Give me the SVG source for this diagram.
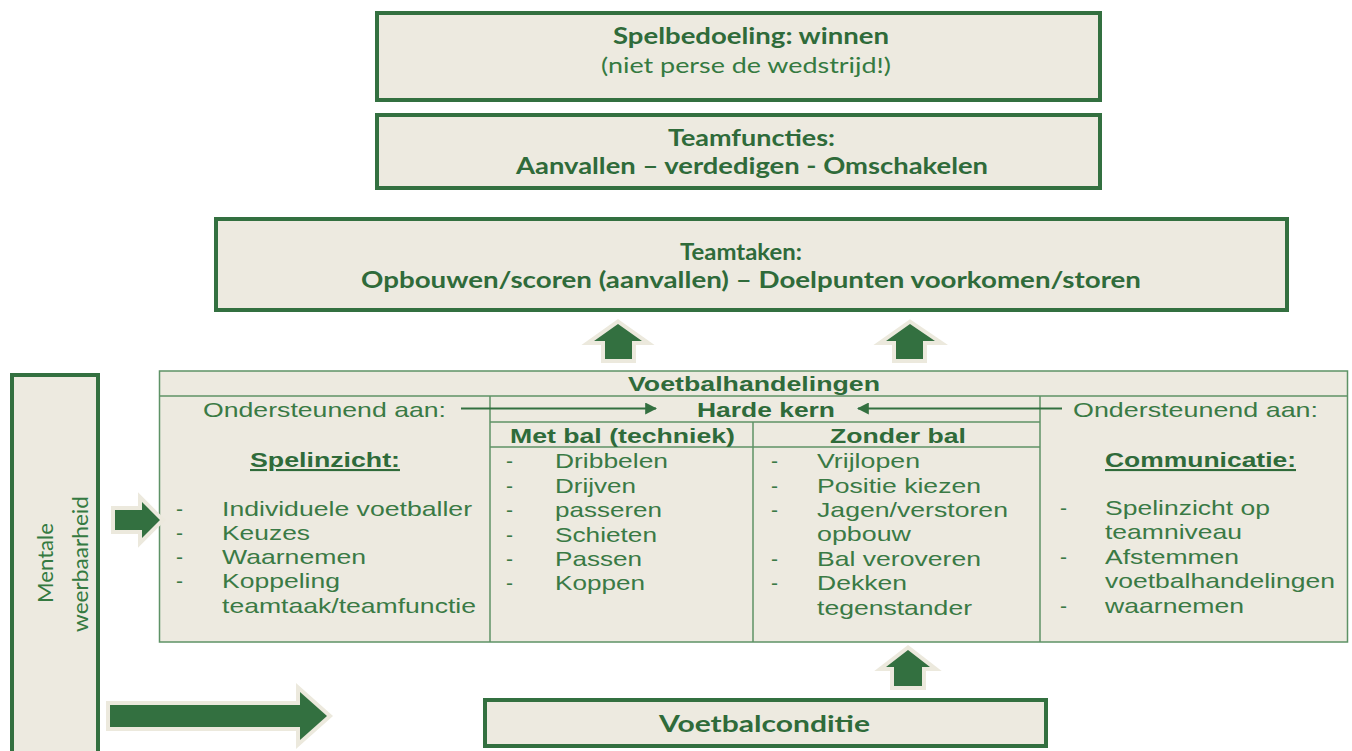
<svg xmlns="http://www.w3.org/2000/svg" width="1352" height="751" viewBox="0 0 1352 751">
<defs>
<style>
.box{fill:#EDEAE0;stroke:#337040;stroke-width:4}
.tbl{fill:#EDEAE0;stroke:#5E9266;stroke-width:1.5}
.ln{stroke:#5E9266;stroke-width:1.5;fill:none}
.cb{font-family:Lato,"Open Sans",sans-serif;font-weight:bold;font-size:22px;fill:#2F6B3A}
.cr{font-family:Lato,"Open Sans",sans-serif;font-size:22px;fill:#357A41}
.ab{font-family:"Liberation Sans",Arial,sans-serif;font-weight:bold;font-size:21px;fill:#2F6B3A}
.ar{font-family:"Liberation Sans",Arial,sans-serif;font-size:21px;fill:#3A7A45}
.arr{fill:#337040;stroke:#ECE9DD;stroke-width:8;stroke-linejoin:miter;paint-order:stroke}
.thin{stroke:#337040;stroke-width:2;fill:none}
</style>
<marker id="ah" viewBox="0 0 10 10" refX="9" refY="5" markerWidth="6" markerHeight="6" orient="auto-start-reverse" markerUnits="strokeWidth">
<path d="M0,0 L10,5 L0,10 z" fill="#337040"/>
</marker>
</defs>
<rect width="1352" height="751" fill="#FFFFFF"/>

<g id="spelbedoeling">
<rect class="box" x="377" y="13" width="723" height="87"/>
<text class="cb" x="613" y="44" textLength="276" lengthAdjust="spacingAndGlyphs">Spelbedoeling: winnen</text>
<text class="cr" x="601" y="73" textLength="290" lengthAdjust="spacingAndGlyphs">(niet perse de wedstrijd!)</text>
</g>

<g id="teamfuncties">
<rect class="box" x="377" y="115" width="723" height="73"/>
<text class="cb" x="668" y="146" textLength="167" lengthAdjust="spacingAndGlyphs">Teamfuncties:</text>
<text class="cb" x="516" y="174" textLength="472" lengthAdjust="spacingAndGlyphs">Aanvallen – verdedigen - Omschakelen</text>
</g>

<g id="teamtaken">
<rect class="box" x="216" y="219" width="1071" height="91"/>
<text class="cb" x="680" y="260" textLength="122" lengthAdjust="spacingAndGlyphs">Teamtaken:</text>
<text class="cb" x="361" y="288" textLength="780" lengthAdjust="spacingAndGlyphs">Opbouwen/scoren (aanvallen) – Doelpunten voorkomen/storen</text>
</g>

<g id="mentale-weerbaarheid">
<rect class="box" x="12" y="375" width="86" height="400"/>
<text class="cr" transform="translate(53,563) rotate(-90)" text-anchor="middle" font-size="27" textLength="80" lengthAdjust="spacingAndGlyphs">Mentale</text>
<text class="cr" transform="translate(88,564) rotate(-90)" text-anchor="middle" font-size="21" textLength="136" lengthAdjust="spacingAndGlyphs">weerbaarheid</text>
</g>

<g id="voetbalconditie">
<rect class="box" x="485" y="700" width="561" height="46"/>
<text class="cb" x="659" y="732" font-size="24" textLength="211" lengthAdjust="spacingAndGlyphs">Voetbalconditie</text>
</g>

<g id="voetbalhandelingen">
<rect class="tbl" x="159.5" y="371" width="1188" height="271"/>
<line class="ln" x1="159.5" y1="396" x2="1347.5" y2="396"/>
<line class="ln" x1="490" y1="422" x2="1040" y2="422"/>
<line class="ln" x1="490" y1="447" x2="1040" y2="447"/>
<line class="ln" x1="490" y1="396" x2="490" y2="642"/>
<line class="ln" x1="753" y1="422" x2="753" y2="642"/>
<line class="ln" x1="1040" y1="396" x2="1040" y2="642"/>
<text class="ab" x="628" y="391" textLength="252" lengthAdjust="spacingAndGlyphs">Voetbalhandelingen</text>
<text class="ar" x="203" y="417" textLength="243" lengthAdjust="spacingAndGlyphs">Ondersteunend aan:</text>
<text class="ab" x="697" y="417" textLength="138" lengthAdjust="spacingAndGlyphs">Harde kern</text>
<text class="ar" x="1073" y="417" textLength="245" lengthAdjust="spacingAndGlyphs">Ondersteunend aan:</text>
<text class="ab" x="510" y="443" textLength="225" lengthAdjust="spacingAndGlyphs">Met bal (techniek)</text>
<text class="ab" x="830" y="443" textLength="136" lengthAdjust="spacingAndGlyphs">Zonder bal</text>

<text class="ab" x="250" y="467" text-decoration="underline" textLength="150" lengthAdjust="spacingAndGlyphs">Spelinzicht:</text>
<g class="ar">
<text x="176" y="516">-</text><text x="222" y="516" textLength="250" lengthAdjust="spacingAndGlyphs">Individuele voetballer</text>
<text x="176" y="540">-</text><text x="222" y="540" textLength="88" lengthAdjust="spacingAndGlyphs">Keuzes</text>
<text x="176" y="564">-</text><text x="222" y="564" textLength="144" lengthAdjust="spacingAndGlyphs">Waarnemen</text>
<text x="176" y="588">-</text><text x="222" y="588" textLength="118" lengthAdjust="spacingAndGlyphs">Koppeling</text>
<text x="222" y="613" textLength="254" lengthAdjust="spacingAndGlyphs">teamtaak/teamfunctie</text>

<text x="506" y="468">-</text><text x="555" y="468" textLength="113" lengthAdjust="spacingAndGlyphs">Dribbelen</text>
<text x="506" y="493">-</text><text x="555" y="493" textLength="81" lengthAdjust="spacingAndGlyphs">Drijven</text>
<text x="506" y="517">-</text><text x="555" y="517" textLength="107" lengthAdjust="spacingAndGlyphs">passeren</text>
<text x="506" y="542">-</text><text x="555" y="542" textLength="102" lengthAdjust="spacingAndGlyphs">Schieten</text>
<text x="506" y="566">-</text><text x="555" y="566" textLength="87" lengthAdjust="spacingAndGlyphs">Passen</text>
<text x="506" y="590">-</text><text x="555" y="590" textLength="90" lengthAdjust="spacingAndGlyphs">Koppen</text>

<text x="771" y="468">-</text><text x="817" y="468" textLength="103" lengthAdjust="spacingAndGlyphs">Vrijlopen</text>
<text x="771" y="493">-</text><text x="817" y="493" textLength="164" lengthAdjust="spacingAndGlyphs">Positie kiezen</text>
<text x="771" y="517">-</text><text x="817" y="517" textLength="191" lengthAdjust="spacingAndGlyphs">Jagen/verstoren</text>
<text x="817" y="541" textLength="94" lengthAdjust="spacingAndGlyphs">opbouw</text>
<text x="771" y="566">-</text><text x="817" y="566" textLength="164" lengthAdjust="spacingAndGlyphs">Bal veroveren</text>
<text x="771" y="590">-</text><text x="817" y="590" textLength="90" lengthAdjust="spacingAndGlyphs">Dekken</text>
<text x="817" y="615" textLength="155" lengthAdjust="spacingAndGlyphs">tegenstander</text>

<text x="1060" y="515">-</text><text x="1105" y="515" textLength="165" lengthAdjust="spacingAndGlyphs">Spelinzicht op</text>
<text x="1105" y="539" textLength="137" lengthAdjust="spacingAndGlyphs">teamniveau</text>
<text x="1060" y="564">-</text><text x="1105" y="564" textLength="134" lengthAdjust="spacingAndGlyphs">Afstemmen</text>
<text x="1105" y="588" textLength="230" lengthAdjust="spacingAndGlyphs">voetbalhandelingen</text>
<text x="1060" y="613">-</text><text x="1105" y="613" textLength="139" lengthAdjust="spacingAndGlyphs">waarnemen</text>
</g>
<text class="ab" x="1105" y="467" text-decoration="underline" textLength="191" lengthAdjust="spacingAndGlyphs">Communicatie:</text>
</g>

<g id="connectors">
<line class="thin" x1="461" y1="408.5" x2="656" y2="408.5" marker-end="url(#ah)"/>
<line class="thin" x1="1062" y1="408.5" x2="858" y2="408.5" marker-end="url(#ah)"/>
<polygon class="arr" points="618,324 642,341 632,341 632,359 605,359 605,341 594,341"/>
<polygon class="arr" points="910,324 935,341 923,341 923,359 896,359 896,341 886,341"/>
<polygon class="arr" points="908,650 930,667 922,667 922,686 894,686 894,667 886,667"/>
<polygon class="arr" points="115,510 142,510 142,502 160,520 142,538 142,530 115,530"/>
<polygon class="arr" points="110,705 300,705 300,692 327,716 300,740 300,727 110,727"/>
</g>
</svg>
